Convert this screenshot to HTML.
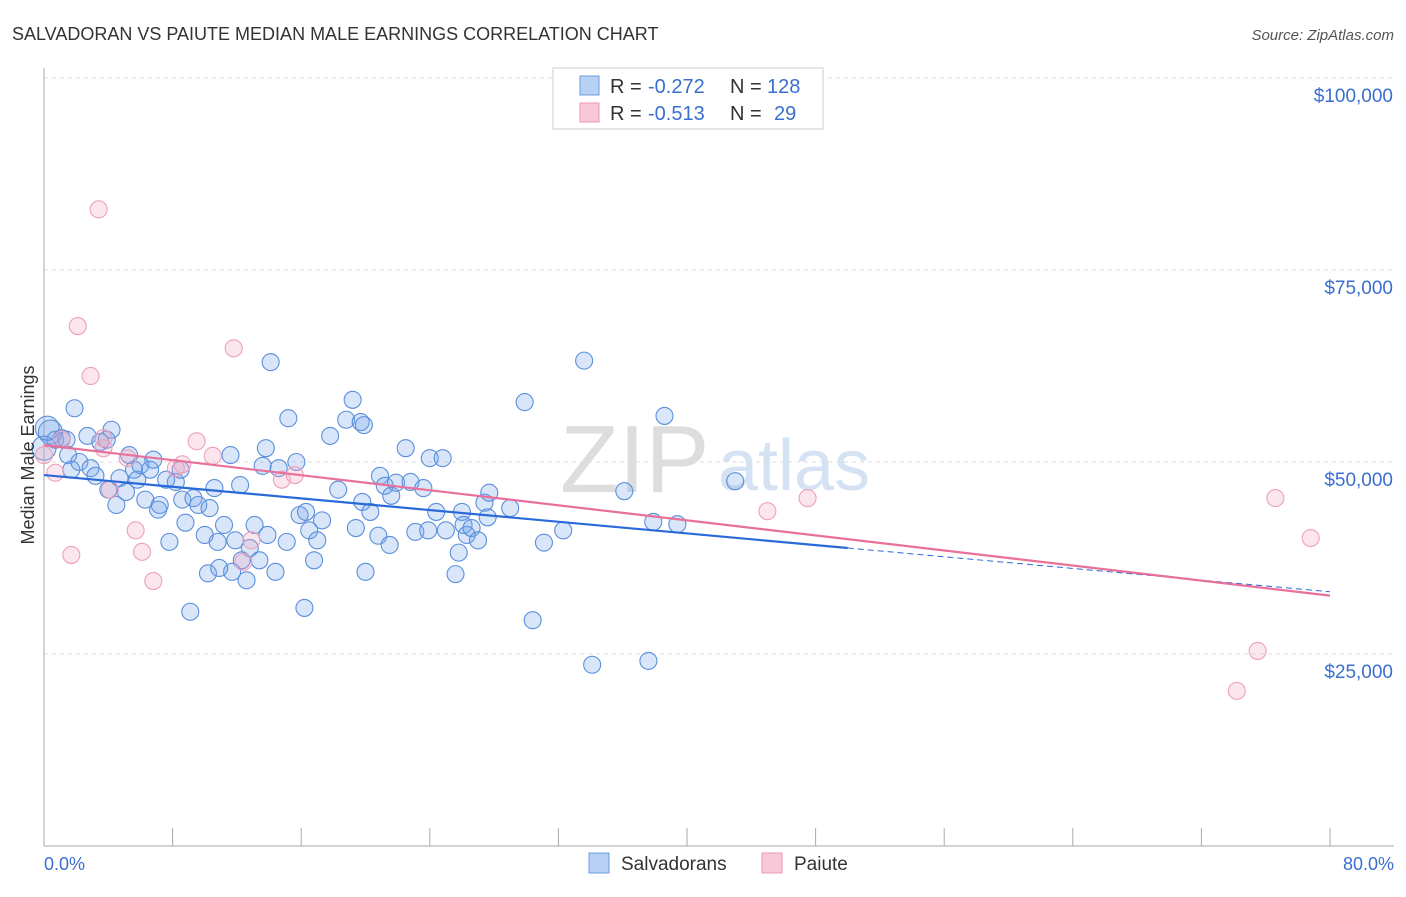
<!DOCTYPE html>
<html><head><meta charset="utf-8"><style>
body{margin:0;background:#fff;font-family:"Liberation Sans",sans-serif;}
svg text{font-family:"Liberation Sans",sans-serif;}
</style></head><body>
<svg id="c" width="1406" height="892">
<text x="12" y="40" font-size="18" fill="#333">SALVADORAN VS PAIUTE MEDIAN MALE EARNINGS CORRELATION CHART</text>
<text x="1394" y="40" font-size="15" fill="#555" text-anchor="end" font-style="italic">Source: ZipAtlas.com</text>
<text x="560" y="492" font-size="96" fill="#ddd" font-family="Liberation Serif">ZIP</text>
<text x="718" y="490" font-size="72" fill="#d4e2f4">atlas</text>
<g id="grid"></g><g id="pts"></g><g id="lines"></g>
<text x="34" y="455" font-size="18" fill="#333" text-anchor="middle" transform="rotate(-90 34 455)">Median Male Earnings</text>
<g>
<rect x="553" y="68" width="270" height="61" fill="#fff" stroke="#ccc"/>
<rect x="580" y="76" width="19" height="19" fill="#b8d0f4" stroke="#6a9be0"/>
<rect x="580" y="103" width="19" height="19" fill="#f8c8d6" stroke="#ea98b4"/>
<text x="610" y="93" font-size="20" fill="#333">R =</text>
<text x="648" y="93" font-size="20" fill="#3a6fd0">-0.272</text>
<text x="730" y="93" font-size="20" fill="#333">N =</text>
<text x="767" y="93" font-size="20" fill="#3a6fd0">128</text>
<text x="610" y="120" font-size="20" fill="#333">R =</text>
<text x="648" y="120" font-size="20" fill="#3a6fd0">-0.513</text>
<text x="730" y="120" font-size="20" fill="#333">N =</text>
<text x="774" y="120" font-size="20" fill="#3a6fd0">29</text>
</g>
<g>
<rect x="589" y="853" width="20" height="20" fill="#b8d0f4" stroke="#6a9be0"/>
<text x="621" y="870" font-size="19" fill="#333">Salvadorans</text>
<rect x="762" y="853" width="20" height="20" fill="#f8c8d6" stroke="#ea98b4"/>
<text x="794" y="870" font-size="19" fill="#333">Paiute</text>
</g>
<text x="44" y="870" font-size="18" fill="#3a6fd0">0.0%</text>
<text x="1394" y="870" font-size="18" fill="#3a6fd0" text-anchor="end">80.0%</text>
</svg>
<script>
const yTicks=[25000,50000,75000,100000];
const yTickLabels=["$25,000","$50,000","$75,000","$100,000"];
const xTicks=[0,8,16,24,32,40,48,56,64,72,80];
const blueX=[0.4,0.7,1.1,1.9,1.4,1.5,1.7,2.2,2.7,2.9,3.2,3.5,3.9,4.2,4.0,4.5,4.7,5.1,5.3,5.6,5.8,6.0,6.3,6.6,6.8,7.1,7.2,7.6,7.8,8.2,8.5,8.6,8.8,9.1,9.3,9.6,10.0,10.2,10.3,10.6,10.8,11.2,11.6,11.7,11.9,12.2,12.6,12.8,13.1,13.4,13.6,13.8,13.9,14.4,14.6,15.1,15.2,15.7,15.9,16.2,16.3,16.5,16.8,17.0,17.3,17.8,18.3,18.8,19.2,19.4,19.7,19.8,19.9,20.0,20.3,20.8,20.9,21.2,21.5,21.6,21.9,22.5,22.8,23.1,23.6,23.9,24.0,24.4,24.8,25.0,25.6,25.8,26.0,26.1,26.3,26.6,27.0,27.4,27.6,27.7,29.0,29.9,30.4,31.1,32.3,33.6,34.1,36.1,37.6,37.9,38.6,39.4,43.0,14.1,10.9,12.3,0.0,0.2];
const blueY=[53.9,52.9,53.1,57.0,52.9,50.9,49.0,50.0,53.4,49.2,48.2,52.6,52.9,54.2,46.4,44.4,47.9,46.1,50.9,49.0,47.7,49.6,45.1,49.0,50.3,43.8,44.4,47.7,39.6,47.4,49.0,45.1,42.1,30.5,45.3,44.4,40.5,35.5,44.0,46.6,39.6,41.8,50.9,35.7,39.8,47.0,34.6,38.8,41.8,37.2,49.5,51.8,40.5,35.7,49.2,39.6,55.7,50.0,43.1,31.0,43.5,41.1,37.2,39.8,42.4,53.4,46.4,55.5,58.1,41.4,55.2,44.8,54.8,35.7,43.5,40.4,48.2,46.9,39.2,45.6,47.3,51.8,47.4,40.9,46.6,41.1,50.5,43.5,50.5,41.1,35.4,38.2,43.5,41.8,40.5,41.4,39.8,44.7,42.8,46.0,44.0,57.8,29.4,39.5,41.1,63.2,23.6,46.2,24.1,42.2,56.0,41.9,47.5,63.0,36.2,37.2,51.8,54.4];
const pinkX=[0.7,1.1,1.7,2.1,2.9,3.4,3.7,4.1,5.7,6.1,6.8,8.2,8.6,9.5,10.5,11.8,12.4,12.9,14.8,15.6,45.0,47.5,74.2,75.5,76.6,78.8,3.7,0.0,5.2];
const pinkY=[48.6,52.9,37.9,67.7,61.2,82.9,53.1,46.4,41.1,38.3,34.5,49.2,49.7,52.7,50.8,64.8,37.0,39.8,47.7,48.3,43.6,45.3,20.2,25.4,45.3,40.1,51.8,50.9,50.5];
const blueTrend=[48.3,-0.19];
const pinkTrend=[52.2,-0.245];
const X0=44,X1=1330,YB=846,YT=78;
const xs=p=>X0+p*(X1-X0)/80;
const ys=v=>YB-v*(YB-YT)/100000;
const NS="http://www.w3.org/2000/svg";
function mk(t,a,parent){const e=document.createElementNS(NS,t);for(const k in a)e.setAttribute(k,a[k]);document.getElementById(parent).appendChild(e);return e;}
yTicks.forEach((v,i)=>{
 const l=mk('line',{x1:X0,x2:1394,y1:ys(v),y2:ys(v),stroke:'#ddd','stroke-dasharray':'4,4'},'grid');
 
 
 const t=mk('text',{x:1393,y:ys(v)+24,'font-size':19,fill:'#3a6fd0','text-anchor':'end'},'grid');
 t.textContent=yTickLabels[i];
 
 
});
const ax=mk('line',{x1:X0,x2:X0,y1:68,y2:YB,stroke:'#aaa'},'grid');


const bx=mk('line',{x1:X0,x2:1394,y1:YB,y2:YB,stroke:'#aaa'},'grid');


xTicks.forEach(p=>{
 const t=mk('line',{x1:xs(p),x2:xs(p),y1:YB,y2:YB-18,stroke:'#aaa'},'grid');
 
 
});
blueX.forEach((p,i)=>{
 const c=mk('circle',{cx:xs(p),cy:ys(blueY[i]*1000),r:(p<0.5?12:8.5),fill:'rgba(120,165,232,0.28)',stroke:'#5a8fdc','stroke-width':1.1},'pts');
 
 
});
pinkX.forEach((p,i)=>{
 const c=mk('circle',{cx:xs(p),cy:ys(pinkY[i]*1000),r:8.5,fill:'rgba(245,165,195,0.28)',stroke:'#eca0ba','stroke-width':1.1},'pts');
 
 
});
const tv=(t,p)=>(t[0]+t[1]*p)*1000;
let l1=mk('line',{x1:xs(0),y1:ys(tv(blueTrend,0)),x2:xs(50),y2:ys(tv(blueTrend,50)),stroke:'#2a6ad8','stroke-width':2.2},'lines');


let l2=mk('line',{x1:xs(50),y1:ys(tv(blueTrend,50)),x2:xs(80),y2:ys(tv(blueTrend,80)),stroke:'#2a6ad8','stroke-width':1,'stroke-dasharray':'6,4'},'lines');


let l3=mk('line',{x1:xs(0),y1:ys(tv(pinkTrend,0)),x2:xs(80),y2:ys(tv(pinkTrend,80)),stroke:'#e8709a','stroke-width':2.2},'lines');


</script>
</body></html>
